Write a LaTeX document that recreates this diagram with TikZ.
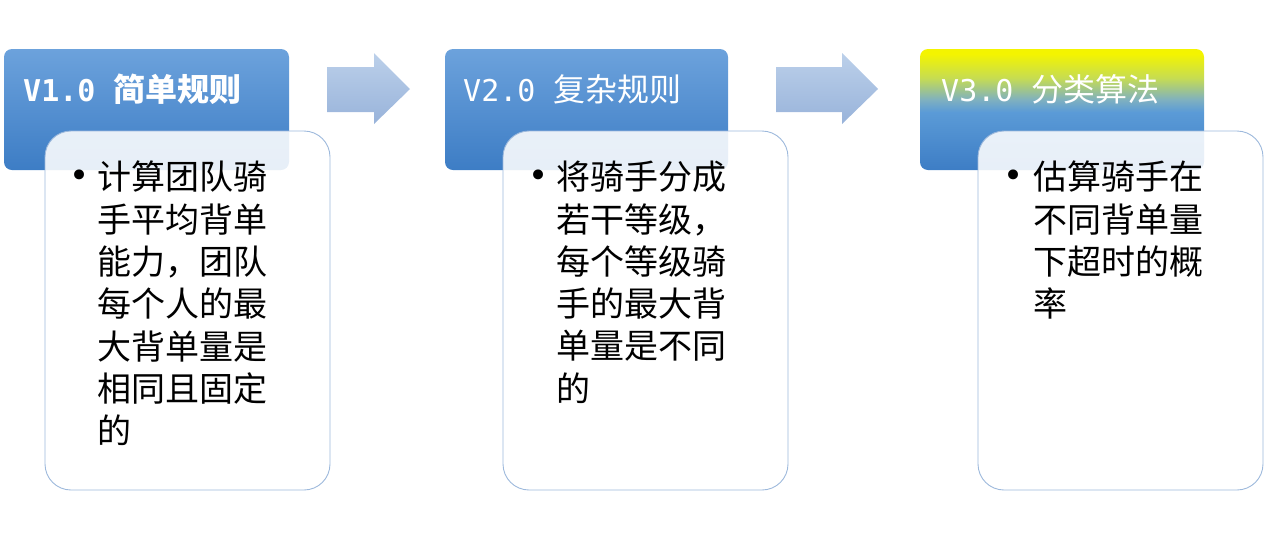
\documentclass[tikz,border=0pt]{standalone}
\usepackage{fontspec}
\setmainfont{Noto Sans CJK SC}
\newfontfamily\hmono{DejaVu Sans Mono}
\newfontfamily\cjk{Noto Sans CJK SC}
\newfontfamily\dv{DejaVu Sans}
\definecolor{htop}{HTML}{6CA2DC}
\definecolor{hbot}{HTML}{3D7DC5}
\definecolor{hmid}{HTML}{5B9BD7}
\definecolor{ylw}{HTML}{F4F400}
\definecolor{ygr}{HTML}{C6DC52}
\definecolor{gbl}{HTML}{7EB0C0}
\definecolor{atop}{HTML}{BCD0EA}
\definecolor{abot}{HTML}{98B3DA}
\definecolor{bline}{HTML}{9DB9DC}
\pgfdeclareverticalshading{yblue}{100bp}{color(0bp)=(hbot); color(25bp)=(hbot); color(49bp)=(hmid); color(54bp)=(gbl); color(63bp)=(ygr); color(73bp)=(ylw); color(100bp)=(ylw)}
\tikzset{
  hdrbox/.style={rounded corners=8pt, top color=htop, bottom color=hbot, draw=none},
  bodybox/.style={rounded corners=26pt, fill=white, fill opacity=0.88, draw=bline, line width=0.9pt},
  hdrtext/.style={anchor=base west, inner sep=0pt, text=white},
  bodytext/.style={anchor=north west, inner sep=0pt, align=left, font=\fontsize{34}{42.3}\selectfont},
  bullettext/.style={inner sep=0pt, font=\dv\fontsize{34}{34}\selectfont},
  flowarrow/.style={top color=atop, bottom color=abot, draw=none}
}
\newcommand{\hdrlabel}[3]{{\hmono\fontsize{30}{30}\selectfont#1#2\ }{\cjk\fontsize{32}{32}\selectfont#1#3}}
\begin{document}
\begin{tikzpicture}[x=1pt,y=-1pt]
\useasboundingbox (0,0) rectangle (1264,539);
% header boxes
\path[hdrbox] (4,49) rectangle (289,170);
\path[hdrbox] (445,49) rectangle (728,170);
\path[rounded corners=8pt, shading=yblue] (920,49) rectangle (1204,170);
\node[hdrtext] (h1) at (23,101) {\hdrlabel{\bfseries}{V1.0}{简单规则}};
\node[hdrtext] (h2) at (463,101) {\hdrlabel{}{V2.0}{复杂规则}};
\node[hdrtext] (h3) at (941,101) {\hdrlabel{}{V3.0}{分类算法}};
% body boxes
\path[bodybox] (45,131) rectangle (330,490);
\path[bodybox] (503,131) rectangle (788,490);
\path[bodybox] (978,131) rectangle (1263,490);
% bullets and text
\node[bullettext] (b1) at (80,179) {•};
\node[bullettext] (b2) at (539,179) {•};
\node[bullettext] (b3) at (1014,179) {•};
\node[bodytext] (t1) at (97,161) {计算团队骑\\手平均背单\\能力，团队\\每个人的最\\大背单量是\\相同且固定\\的};
\node[bodytext] (t2) at (556,161) {将骑手分成\\若干等级，\\每个等级骑\\手的最大背\\单量是不同\\的};
\node[bodytext] (t3) at (1033,161) {估算骑手在\\不同背单量\\下超时的概\\率};
% arrows
\path[flowarrow] (327,67) -- (374,67) -- (374,53) -- (410,89) -- (374,124) -- (374,112) -- (327,112) -- cycle;
\path[flowarrow] (776,67) -- (842,67) -- (842,53) -- (878,89) -- (842,124) -- (842,112) -- (776,112) -- cycle;
\end{tikzpicture}
\end{document}
